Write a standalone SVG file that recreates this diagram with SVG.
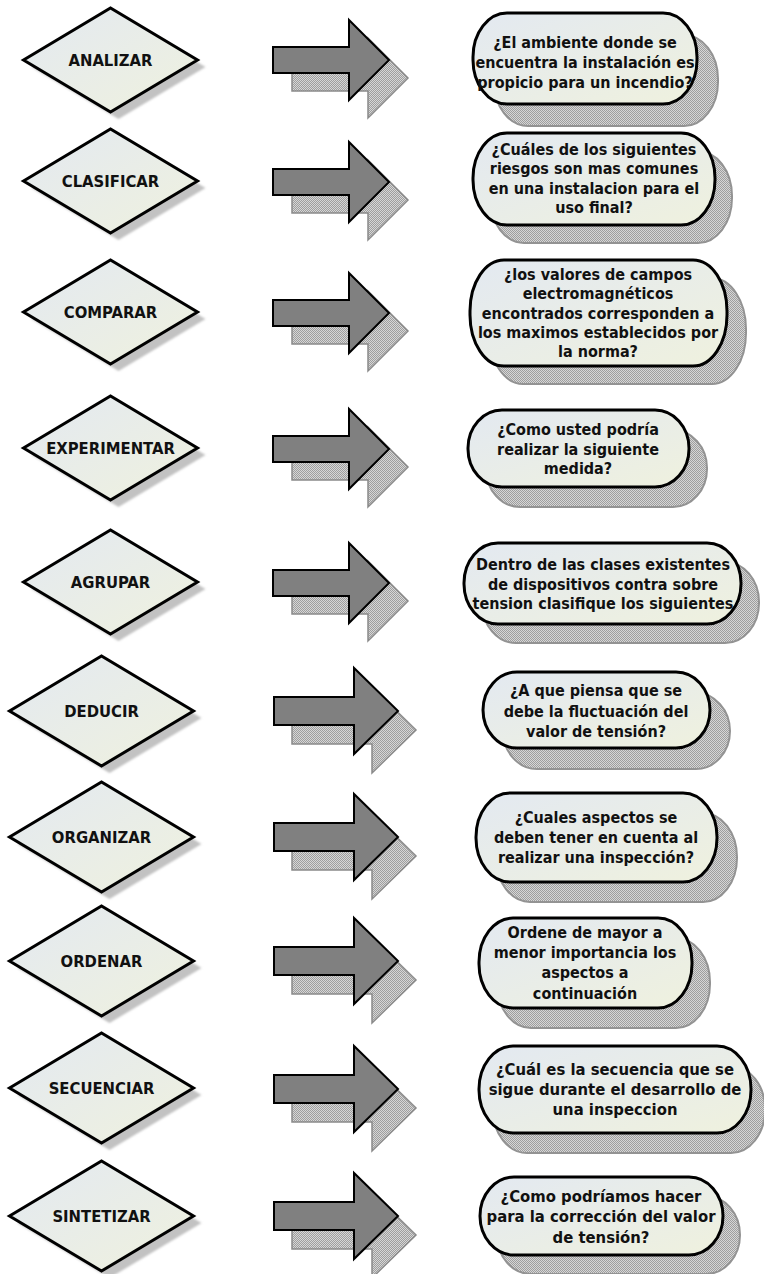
<svg xmlns="http://www.w3.org/2000/svg" width="764" height="1274" viewBox="0 0 764 1274">
  <style>
    .dia { stroke: #000; stroke-width: 3; stroke-linejoin: miter; fill: url(#paper); }
    .dia-sh { fill: #c2c2c2; filter: url(#soft); }
    .box { stroke: #000; stroke-width: 3; fill: url(#paper); }
    .box-sh { fill: url(#dither); stroke: #939393; stroke-width: 2; }
    .arr { fill: #808080; stroke: #000; stroke-width: 2; stroke-linejoin: miter; }
    .arr-sh { fill: url(#dither); stroke: #8a8a8a; stroke-width: 1.5; stroke-linejoin: miter; }
    .lbl { font-family: "DejaVu Sans Condensed", "DejaVu Sans", sans-serif; font-stretch: condensed; font-weight: bold; font-size: 16.5px; fill: #111; text-anchor: middle; }
    .q { font-family: "DejaVu Sans Condensed", "DejaVu Sans", sans-serif; font-stretch: condensed; font-weight: bold; font-size: 16px; fill: #111; text-anchor: middle; }
    .q2 { font-size: 16.5px; }
  </style>
  <defs>
    <linearGradient id="paper" x1="0" y1="0" x2="1" y2="1">
      <stop offset="0" stop-color="#e3e9f1"/>
      <stop offset="1" stop-color="#eff1de"/>
    </linearGradient>
    <pattern id="dither" width="2" height="2" patternUnits="userSpaceOnUse">
      <rect width="2" height="2" fill="#d6d6d6"/>
      <rect width="1" height="1" fill="#9e9e9e"/>
      <rect x="1" y="1" width="1" height="1" fill="#9e9e9e"/>
    </pattern>
    <filter id="soft" x="-10%" y="-10%" width="120%" height="120%">
      <feGaussianBlur stdDeviation="1.2"/>
    </filter>
    <!-- block arrows drawn around y = 0 -->
    <path id="arrowA" d="M273,-13 H349 V-40 L389,0 L349,40 V13 H273 Z"/>
    <path id="arrowB" d="M274,-14 H354 V-43 L398,0 L354,43 V14 H274 Z"/>
    <!-- diamonds drawn around (0,0) -->
    <path id="diaA" d="M-87,0 L0,-52 L87,0 L0,52 Z"/>
    <path id="diaB" d="M-92,0 L0,-55 L92,0 L0,55 Z"/>
  </defs>

  <rect width="764" height="1274" fill="#fff"/>

  <!-- connectors: block arrows with dithered drop shadow -->
  <g id="connectors">
    <use href="#arrowA" class="arr-sh" transform="translate(19,78)"/>
    <use href="#arrowA" class="arr" transform="translate(0,60)"/>
    <use href="#arrowA" class="arr-sh" transform="translate(19,200)"/>
    <use href="#arrowA" class="arr" transform="translate(0,182)"/>
    <use href="#arrowA" class="arr-sh" transform="translate(19,331)"/>
    <use href="#arrowA" class="arr" transform="translate(0,313)"/>
    <use href="#arrowA" class="arr-sh" transform="translate(19,467)"/>
    <use href="#arrowA" class="arr" transform="translate(0,449)"/>
    <use href="#arrowA" class="arr-sh" transform="translate(19,601)"/>
    <use href="#arrowA" class="arr" transform="translate(0,583)"/>
    <use href="#arrowB" class="arr-sh" transform="translate(18,730)"/>
    <use href="#arrowB" class="arr" transform="translate(0,711)"/>
    <use href="#arrowB" class="arr-sh" transform="translate(18,856)"/>
    <use href="#arrowB" class="arr" transform="translate(0,837)"/>
    <use href="#arrowB" class="arr-sh" transform="translate(18,980)"/>
    <use href="#arrowB" class="arr" transform="translate(0,961)"/>
    <use href="#arrowB" class="arr-sh" transform="translate(18,1108)"/>
    <use href="#arrowB" class="arr" transform="translate(0,1089)"/>
    <use href="#arrowB" class="arr-sh" transform="translate(18,1235)"/>
    <use href="#arrowB" class="arr" transform="translate(0,1216)"/>
  </g>

  <!-- action diamonds -->
  <g id="node-analizar" transform="translate(110.5,60)">
    <use href="#diaA" class="dia-sh" transform="translate(8,7)"/>
    <use href="#diaA" class="dia"/>
    <text class="lbl" y="6">ANALIZAR</text>
  </g>
  <g id="node-clasificar" transform="translate(110.5,181)">
    <use href="#diaA" class="dia-sh" transform="translate(8,7)"/>
    <use href="#diaA" class="dia"/>
    <text class="lbl" y="6">CLASIFICAR</text>
  </g>
  <g id="node-comparar" transform="translate(110.5,312)">
    <use href="#diaA" class="dia-sh" transform="translate(8,7)"/>
    <use href="#diaA" class="dia"/>
    <text class="lbl" y="6">COMPARAR</text>
  </g>
  <g id="node-experimentar" transform="translate(110.5,448)">
    <use href="#diaA" class="dia-sh" transform="translate(8,7)"/>
    <use href="#diaA" class="dia"/>
    <text class="lbl" y="6">EXPERIMENTAR</text>
  </g>
  <g id="node-agrupar" transform="translate(110.5,582)">
    <use href="#diaA" class="dia-sh" transform="translate(8,7)"/>
    <use href="#diaA" class="dia"/>
    <text class="lbl" y="6">AGRUPAR</text>
  </g>
  <g id="node-deducir" transform="translate(101.5,711)">
    <use href="#diaB" class="dia-sh" transform="translate(8,7)"/>
    <use href="#diaB" class="dia"/>
    <text class="lbl" y="6">DEDUCIR</text>
  </g>
  <g id="node-organizar" transform="translate(101.5,837)">
    <use href="#diaB" class="dia-sh" transform="translate(8,7)"/>
    <use href="#diaB" class="dia"/>
    <text class="lbl" y="6">ORGANIZAR</text>
  </g>
  <g id="node-ordenar" transform="translate(101.5,961)">
    <use href="#diaB" class="dia-sh" transform="translate(8,7)"/>
    <use href="#diaB" class="dia"/>
    <text class="lbl" y="6">ORDENAR</text>
  </g>
  <g id="node-secuenciar" transform="translate(101.5,1088)">
    <use href="#diaB" class="dia-sh" transform="translate(8,7)"/>
    <use href="#diaB" class="dia"/>
    <text class="lbl" y="6">SECUENCIAR</text>
  </g>
  <g id="node-sintetizar" transform="translate(101.5,1216)">
    <use href="#diaB" class="dia-sh" transform="translate(8,7)"/>
    <use href="#diaB" class="dia"/>
    <text class="lbl" y="6">SINTETIZAR</text>
  </g>

  <!-- question boxes -->
  <g id="q-analizar">
    <rect class="box-sh" x="494" y="35" width="224" height="91" rx="34" ry="44"/>
    <rect class="box" x="473" y="13" width="224" height="91" rx="34" ry="44"/>
    <text class="q" x="585" y="48">¿El ambiente donde se</text>
    <text class="q" x="585" y="68">encuentra la instalación es</text>
    <text class="q" x="585" y="88">propicio para un incendio?</text>
  </g>
  <g id="q-clasificar">
    <rect class="box-sh" x="490" y="151" width="242" height="92" rx="34" ry="45"/>
    <rect class="box" x="473" y="133" width="242" height="92" rx="34" ry="45"/>
    <text class="q" x="594" y="155">¿Cuáles de los siguientes</text>
    <text class="q" x="594" y="174">riesgos son mas comunes</text>
    <text class="q" x="594" y="194">en una instalacion para el</text>
    <text class="q" x="594" y="213">uso final?</text>
  </g>
  <g id="q-comparar">
    <rect class="box-sh" x="489" y="278" width="257" height="106" rx="34" ry="51"/>
    <rect class="box" x="470" y="260" width="257" height="106" rx="34" ry="51"/>
    <text class="q" x="598" y="280">¿los valores de campos</text>
    <text class="q" x="598" y="299">electromagnéticos</text>
    <text class="q" x="598" y="319">encontrados corresponden a</text>
    <text class="q" x="598" y="338">los maximos establecidos por</text>
    <text class="q" x="598" y="357">la norma?</text>
  </g>
  <g id="q-experimentar">
    <rect class="box-sh" x="486" y="430" width="221" height="77" rx="34" ry="38"/>
    <rect class="box" x="468" y="410" width="221" height="77" rx="34" ry="38"/>
    <text class="q" x="578" y="435">¿Como usted podría</text>
    <text class="q" x="578" y="455">realizar la siguiente</text>
    <text class="q" x="578" y="474">medida?</text>
  </g>
  <g id="q-agrupar">
    <rect class="box-sh" x="482" y="562" width="277" height="81" rx="34" ry="40"/>
    <rect class="box" x="464" y="543" width="277" height="81" rx="34" ry="40"/>
    <text class="q" x="603" y="570">Dentro de las clases existentes</text>
    <text class="q" x="603" y="590">de dispositivos contra sobre</text>
    <text class="q" x="603" y="609">tension clasifique los siguientes</text>
  </g>
  <g id="q-deducir">
    <rect class="box-sh" x="503" y="693" width="227" height="76" rx="34" ry="38"/>
    <rect class="box" x="483" y="672" width="227" height="76" rx="34" ry="38"/>
    <text class="q" x="596" y="696">¿A que piensa que se</text>
    <text class="q" x="596" y="717">debe la fluctuación del</text>
    <text class="q" x="596" y="737">valor de tensión?</text>
  </g>
  <g id="q-organizar">
    <rect class="box-sh" x="496" y="813" width="241" height="89" rx="34" ry="44"/>
    <rect class="box" x="476" y="793" width="241" height="89" rx="34" ry="44"/>
    <text class="q" x="596" y="823">¿Cuales aspectos se</text>
    <text class="q" x="596" y="843">deben tener en cuenta al</text>
    <text class="q" x="596" y="863">realizar una inspección?</text>
  </g>
  <g id="q-ordenar">
    <rect class="box-sh" x="497" y="938" width="213" height="90" rx="34" ry="44"/>
    <rect class="box" x="479" y="918" width="213" height="90" rx="34" ry="44"/>
    <text class="q" x="585" y="938">Ordene de mayor a</text>
    <text class="q" x="585" y="958">menor importancia los</text>
    <text class="q" x="585" y="978">aspectos a</text>
    <text class="q" x="585" y="999">continuación</text>
  </g>
  <g id="q-secuenciar">
    <rect class="box-sh" x="493" y="1066" width="272" height="87" rx="34" ry="43"/>
    <rect class="box" x="479" y="1046" width="272" height="87" rx="34" ry="43"/>
    <text class="q q2" x="615" y="1075">¿Cuál es la secuencia que se</text>
    <text class="q q2" x="615" y="1095">sigue durante el desarrollo de</text>
    <text class="q q2" x="615" y="1115">una inspeccion</text>
  </g>
  <g id="q-sintetizar">
    <rect class="box-sh" x="497" y="1196" width="243" height="78" rx="34" ry="39"/>
    <rect class="box" x="480" y="1177" width="243" height="78" rx="34" ry="39"/>
    <text class="q q2" x="601" y="1202">¿Como podríamos hacer</text>
    <text class="q q2" x="601" y="1222">para la corrección del valor</text>
    <text class="q q2" x="601" y="1243">de tensión?</text>
  </g>
</svg>
